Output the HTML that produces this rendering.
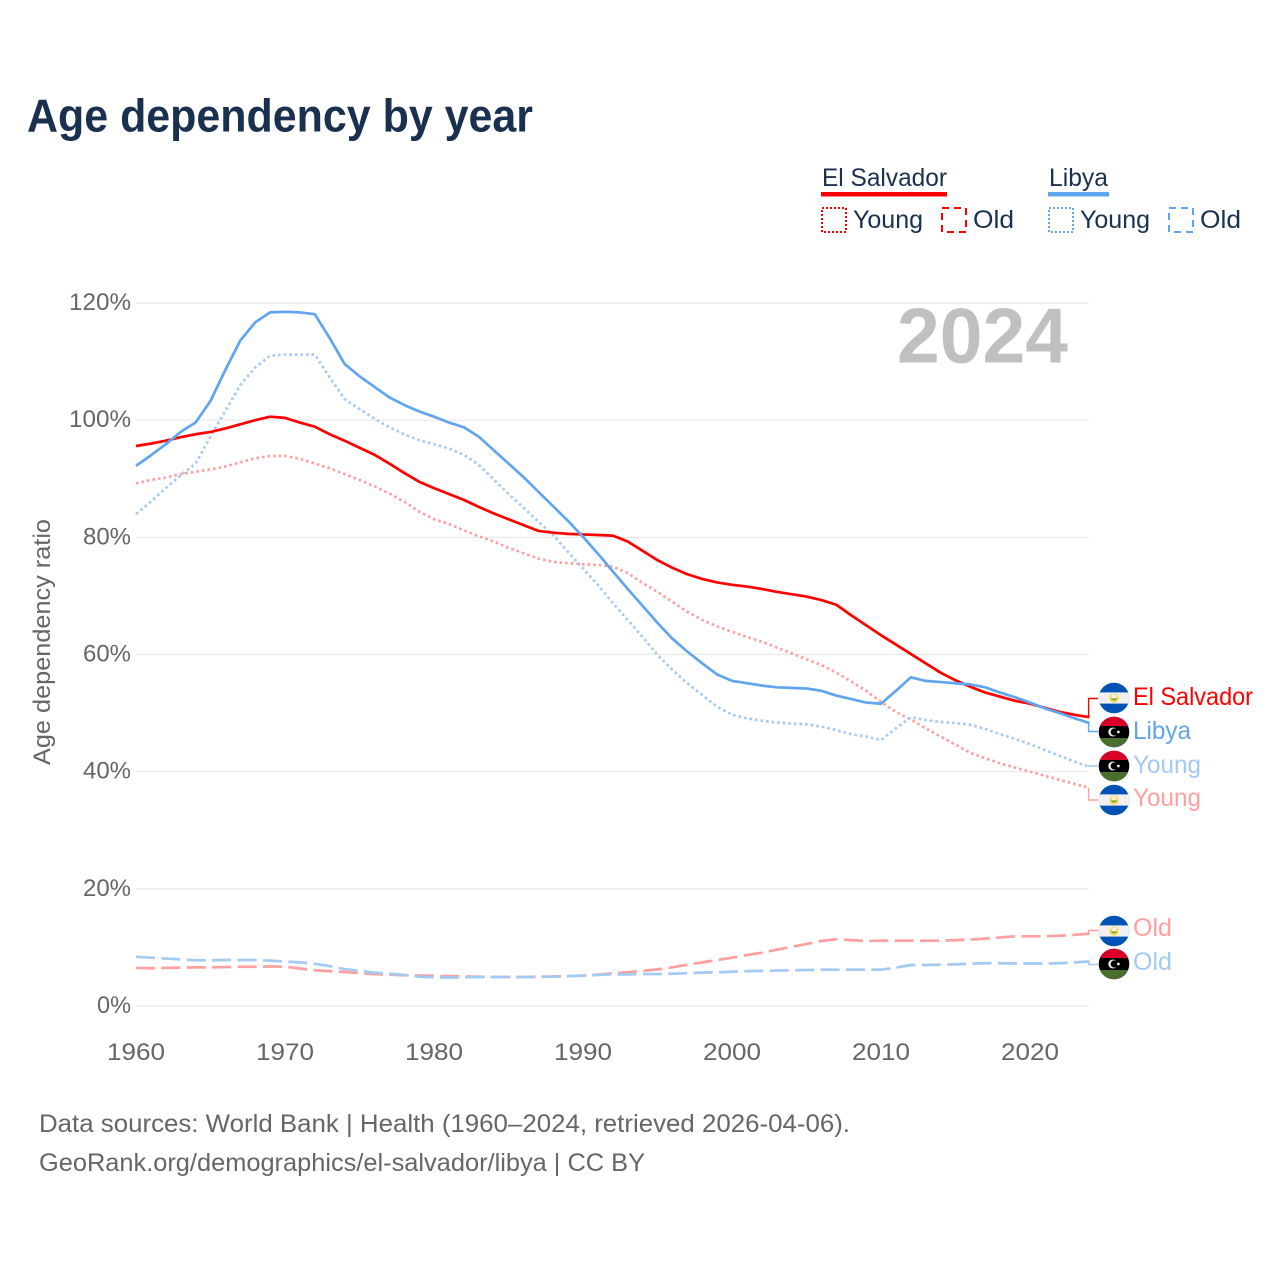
<!DOCTYPE html>
<html lang="en">
<head>
<meta charset="utf-8">
<title>Age dependency by year</title>
<style>
  html, body { margin: 0; padding: 0; background: #fff; }
  svg { display: block; font-family: "Liberation Sans", sans-serif; }
</style>
</head>
<body>
<svg id="chart" xmlns="http://www.w3.org/2000/svg" width="1280" height="1280" viewBox="0 0 1280 1280">
  <rect width="1280" height="1280" fill="#ffffff"/>
  <text x="27" y="131.5" font-size="46" font-weight="700" fill="#1a304f" textLength="506" lengthAdjust="spacingAndGlyphs">Age dependency by year</text>

  <g>
    <text x="822" y="186" font-size="25" fill="#1a304f" textLength="125" lengthAdjust="spacingAndGlyphs">El Salvador</text>
    <rect x="821" y="192" width="126" height="4.5" fill="#ff0000"/>
    <rect x="822" y="208" width="24" height="24" fill="none" stroke="#ff0000" stroke-width="2" stroke-dasharray="2 2"/>
    <text x="853" y="228" font-size="25" fill="#1a304f" textLength="70" lengthAdjust="spacingAndGlyphs">Young</text>
    <rect x="942" y="208" width="24" height="24" fill="none" stroke="#ff0000" stroke-width="2" stroke-dasharray="7 5"/>
    <text x="973" y="228" font-size="25" fill="#1a304f" textLength="41" lengthAdjust="spacingAndGlyphs">Old</text>
    <text x="1049" y="186" font-size="25" fill="#1a304f" textLength="59" lengthAdjust="spacingAndGlyphs">Libya</text>
    <rect x="1048" y="192" width="61" height="4.5" fill="#60a5ed"/>
    <rect x="1049" y="208" width="24" height="24" fill="none" stroke="#60a5ed" stroke-width="2" stroke-dasharray="2 2"/>
    <text x="1080" y="228" font-size="25" fill="#1a304f" textLength="70" lengthAdjust="spacingAndGlyphs">Young</text>
    <rect x="1169" y="208" width="24" height="24" fill="none" stroke="#60a5ed" stroke-width="2" stroke-dasharray="7 5"/>
    <text x="1200" y="228" font-size="25" fill="#1a304f" textLength="41" lengthAdjust="spacingAndGlyphs">Old</text>
  </g>

  <text transform="translate(50 642) rotate(-90)" text-anchor="middle" font-size="24" fill="#666666" textLength="246" lengthAdjust="spacingAndGlyphs">Age dependency ratio</text>

  <g id="grid"></g>
  <g id="ticks"></g>
  <text x="897" y="362.5" font-size="78" font-weight="700" fill="#c0c0c0" textLength="171" lengthAdjust="spacingAndGlyphs">2024</text>
  <g id="series"></g>
  <g id="labels"></g>

  <text x="39" y="1132" font-size="25" fill="#666666" textLength="811" lengthAdjust="spacingAndGlyphs">Data sources: World Bank | Health (1960–2024, retrieved 2026-04-06).</text>
  <text x="39" y="1171" font-size="25" fill="#666666" textLength="606" lengthAdjust="spacingAndGlyphs">GeoRank.org/demographics/el-salvador/libya | CC BY</text>
</svg>

<script>
const years = [
  1960,1961,1962,1963,1964,1965,1966,1967,1968,1969,
  1970,1971,1972,1973,1974,1975,1976,1977,1978,1979,
  1980,1981,1982,1983,1984,1985,1986,1987,1988,1989,
  1990,1991,1992,1993,1994,1995,1996,1997,1998,1999,
  2000,2001,2002,2003,2004,2005,2006,2007,2008,2009,
  2010,2011,2012,2013,2014,2015,2016,2017,2018,2019,
  2020,2021,2022,2023,2024
];
const elSalvadorTotal = [
  95.6,96,96.5,97.1,97.6,98,98.6,99.3,100,100.6,
  100.4,99.6,98.9,97.6,96.5,95.3,94.1,92.6,91,89.5,
  88.4,87.4,86.4,85.2,84.1,83.1,82.1,81.1,80.8,80.6,
  80.5,80.4,80.3,79.3,77.7,76.1,74.8,73.7,72.9,72.3,
  71.9,71.6,71.2,70.7,70.3,69.9,69.3,68.5,66.7,65,
  63.3,61.7,60.1,58.5,56.9,55.6,54.5,53.5,52.8,52.1,
  51.6,50.9,50.2,49.7,49.3
];
const libyaTotal = [
  92.2,94,95.9,98,99.6,103.3,108.6,113.6,116.7,118.4,
  118.5,118.4,118.1,114,109.6,107.5,105.7,103.9,102.6,101.5,
  100.6,99.6,98.8,97.2,94.9,92.6,90.3,87.8,85.3,82.8,
  80.1,77.2,74.2,71.2,68.3,65.4,62.7,60.5,58.5,56.6,
  55.5,55.1,54.7,54.4,54.3,54.2,53.8,53,52.4,51.8,
  51.6,53.8,56.1,55.5,55.3,55.1,54.9,54.4,53.5,52.7,
  51.8,50.8,50,49.1,48.3
];
const elSalvadorYoung = [
  89.2,89.8,90.2,90.8,91.2,91.6,92.1,92.8,93.5,93.9,
  93.9,93.4,92.6,91.8,90.8,89.8,88.7,87.5,86.1,84.4,
  83.1,82.3,81.2,80.2,79.3,78.2,77.3,76.4,75.8,75.6,
  75.4,75.3,75,73.9,72.2,70.7,69,67.3,65.9,64.8,
  63.9,63,62.2,61.2,60.2,59.2,58.2,56.9,55.4,53.8,
  51.9,50.2,48.9,47.4,46,44.6,43.2,42.3,41.4,40.7,
  40,39.3,38.6,37.9,37.2
];
const libyaYoung = [
  84,86.1,88.4,90.6,92.6,97.2,101.6,106,109,111,
  111.2,111.2,111.2,107.3,103.6,101.9,100.3,98.8,97.6,96.6,
  95.9,95.2,94.1,92.4,89.9,87.4,85.1,82.7,80.4,77.5,
  74.7,71.9,68.8,65.9,63,59.9,57.4,55.1,53.1,51.1,
  49.7,49.1,48.7,48.4,48.2,48.1,47.7,47.1,46.4,46,
  45.4,47.4,49.3,48.8,48.5,48.3,48,47.3,46.4,45.6,
  44.7,43.7,42.7,41.7,40.8
];
const elSalvadorOld = [
  6.5,6.45,6.5,6.55,6.6,6.6,6.65,6.7,6.7,6.75,
  6.7,6.4,6.1,5.95,5.8,5.6,5.45,5.35,5.25,5.2,
  5.15,5.1,5.05,5,4.95,4.95,4.95,5,5.05,5.1,
  5.2,5.35,5.6,5.75,6,6.25,6.6,7.05,7.45,7.85,
  8.25,8.7,9.1,9.6,10.1,10.6,11.1,11.4,11.25,11.1,
  11.15,11.15,11.15,11.15,11.15,11.25,11.35,11.5,11.7,11.9,
  11.9,11.9,12,12.15,12.35
];
const libyaOld = [
  8.4,8.25,8.1,7.95,7.8,7.8,7.85,7.85,7.85,7.75,
  7.6,7.45,7.2,6.8,6.3,6,5.7,5.5,5.3,5,
  4.9,4.85,4.9,4.95,4.95,4.95,4.95,4.95,5,5.1,
  5.2,5.3,5.4,5.4,5.45,5.45,5.5,5.6,5.7,5.75,
  5.85,5.95,6,6.05,6.1,6.15,6.2,6.2,6.2,6.2,
  6.2,6.55,7,7,7.05,7.1,7.25,7.3,7.3,7.25,
  7.25,7.25,7.3,7.45,7.6
];
const yTickValues = [0,20,40,60,80,100,120];
const yTickLabels = ["0%","20%","40%","60%","80%","100%","120%"];
const xTickValues = [1960,1970,1980,1990,2000,2010,2020];
const xTickLabels = ["1960","1970","1980","1990","2000","2010","2020"];

const NS = "http://www.w3.org/2000/svg";
const xScale = function (year) { return 136 + (year - 1960) * 14.9; };
const yScale = function (v) { return 1006 - v * 5.858; };
const mk = function (tag, attrs, parent) {
  const el = document.createElementNS(NS, tag);
  for (const k in attrs) { el.setAttribute(k, attrs[k]); }
  parent.appendChild(el);
  return el;
};

const gridG = document.getElementById("grid");
const ticksG = document.getElementById("ticks");
const seriesG = document.getElementById("series");
const labelsG = document.getElementById("labels");

yTickValues.forEach(function (v, i) {
  const line = mk("line", {x1: 136, x2: 1089, y1: yScale(v), y2: yScale(v), stroke: "#e8e8e8", "stroke-width": 1.2}, gridG);
  
  
  const label = mk("text", {x: 131, y: yScale(v) + 7, "text-anchor": "end", "font-size": 24, fill: "#666666",
    textLength: yTickLabels[i].length * 14 + 6, lengthAdjust: "spacingAndGlyphs"}, ticksG);
  label.textContent = yTickLabels[i];
  
  
});
xTickValues.forEach(function (yr, i) {
  const label = mk("text", {x: xScale(yr), y: 1060, "text-anchor": "middle", "font-size": 24, fill: "#666666",
    textLength: 58, lengthAdjust: "spacingAndGlyphs"}, ticksG);
  label.textContent = xTickLabels[i];
  
  
});

const linePath = function (values) {
  return values.map(function (v, i) {
    return (i ? "L" : "M") + xScale(years[i]).toFixed(2) + " " + yScale(v).toFixed(2);
  }).join("");
};
const drawLine = function (values, color, dash) {
  const p = mk("path", {d: linePath(values), fill: "none", stroke: color, "stroke-width": 2.7, "stroke-linejoin": "round"}, seriesG);
  if (dash) { p.setAttribute("stroke-dasharray", dash); }
  return p;
};
const PINK = "#ff9f9f", SKY = "#a3caf3", RED = "#ff0000", BLUE = "#60a5ed";
const DOT = "2.6 3", DASH = "19 6.4";

let s;
s = drawLine(elSalvadorOld, PINK, DASH);


s = drawLine(libyaOld, SKY, DASH);


s = drawLine(elSalvadorYoung, PINK, DOT);


s = drawLine(libyaYoung, SKY, DOT);


s = drawLine(elSalvadorTotal, RED, null);


s = drawLine(libyaTotal, BLUE, null);



const drawElSalvadorFlag = function (cy, parent) {
  const g = mk("g", {}, parent);
  const id = "clip" + Math.round(cy);
  const cp = mk("clipPath", {id: id}, g);
  mk("circle", {cx: 1114, cy: cy, r: 15.3}, cp);
  const inner = mk("g", {"clip-path": "url(#" + id + ")"}, g);
  mk("rect", {x: 1098, y: cy - 16, width: 32, height: 32, fill: "#0052b4"}, inner);
  mk("rect", {x: 1098, y: cy - 5.6, width: 32, height: 11.2, fill: "#f0f0f0"}, inner);
  mk("circle", {cx: 1114, cy: cy, r: 4.6, fill: "#ffda44"}, inner);
  mk("circle", {cx: 1114, cy: cy - 1.6, r: 2.4, fill: "#f0f0f0"}, inner);
  mk("rect", {x: 1111.4, y: cy + 0.4, width: 5.2, height: 1.8, fill: "#6da544"}, inner);
  return g;
};
const drawLibyaFlag = function (cy, parent) {
  const g = mk("g", {}, parent);
  const id = "clip" + Math.round(cy);
  const cp = mk("clipPath", {id: id}, g);
  mk("circle", {cx: 1114, cy: cy, r: 15.3}, cp);
  const inner = mk("g", {"clip-path": "url(#" + id + ")"}, g);
  mk("rect", {x: 1098, y: cy - 16, width: 32, height: 32, fill: "#000000"}, inner);
  mk("rect", {x: 1098, y: cy - 16, width: 32, height: 10, fill: "#d80027"}, inner);
  mk("rect", {x: 1098, y: cy + 6, width: 32, height: 10, fill: "#496e2d"}, inner);
  mk("circle", {cx: 1112.8, cy: cy, r: 4.5, fill: "#f0f0f0"}, inner);
  mk("circle", {cx: 1114.2, cy: cy, r: 3.6, fill: "#000000"}, inner);
  mk("circle", {cx: 1118.4, cy: cy, r: 1.4, fill: "#f0f0f0"}, inner);
  return g;
};
const drawConnector = function (value, labelY, color) {
  const y0 = yScale(value);
  return mk("path", {d: "M1088.6 " + y0.toFixed(2) + "V" + labelY + "H1098", fill: "none", stroke: color, "stroke-width": 1.4}, labelsG);
};
const drawLabel = function (text, cy, color, width) {
  return mk("text", {x: 1133, y: cy + 7, "font-size": 25, fill: color, textLength: width, lengthAdjust: "spacingAndGlyphs"}, labelsG);
};

let c, f, t;
c = drawConnector(elSalvadorTotal[64], 698.5, RED);


f = drawElSalvadorFlag(698, labelsG);


t = drawLabel("El Salvador", 698, RED, 120);
t.textContent = "El Salvador";



c = drawConnector(libyaTotal[64], 731.5, BLUE);


f = drawLibyaFlag(732, labelsG);


t = drawLabel("Libya", 732, BLUE, 58);
t.textContent = "Libya";



c = drawConnector(libyaYoung[64], 766, SKY);


f = drawLibyaFlag(766, labelsG);


t = drawLabel("Young", 766, SKY, 68);
t.textContent = "Young";



c = drawConnector(elSalvadorYoung[64], 800, PINK);


f = drawElSalvadorFlag(800, labelsG);


t = drawLabel("Young", 799, PINK, 68);
t.textContent = "Young";



c = drawConnector(elSalvadorOld[64], 930.5, PINK);


f = drawElSalvadorFlag(931, labelsG);


t = drawLabel("Old", 929, PINK, 39);
t.textContent = "Old";



c = drawConnector(libyaOld[64], 964.5, SKY);


f = drawLibyaFlag(964, labelsG);


t = drawLabel("Old", 963, SKY, 39);
t.textContent = "Old";


</script>
</body>
</html>
